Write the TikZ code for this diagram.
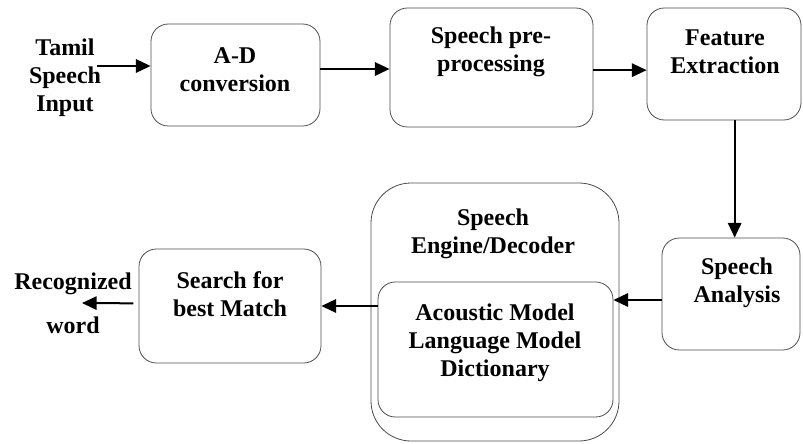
\documentclass[tikz,border=0pt]{standalone}
\usepackage{fontspec}
\setmainfont{Liberation Serif}
\usetikzlibrary{positioning,arrows.meta,calc}

\tikzset{
  block/.style={draw=black!70, line width=0.6pt, rounded corners=13pt},
  bigblock/.style={block, rounded corners=30pt},
  lbl/.style={font=\fontsize{18}{21}\selectfont\bfseries, align=center, inner sep=0pt},
  flow/.style={line width=1.5pt, -{Triangle[length=11pt,width=10pt]}}
}

\begin{document}
\begin{tikzpicture}[x=0.75pt,y=-0.75pt]
    \useasboundingbox (0,0) rectangle (803,443);

    % Top row
    \node (ad) at (235.5,75) [block, minimum width=126.75pt, minimum height=76.5pt] {};
    \node (ad-t) at (235,70) [lbl] {A-D\\conversion};

    \node (pre) at (491.5,67.5) [block, minimum width=152.25pt, minimum height=89.25pt] {};
    \node (pre-t) at (491,52) [lbl] {Speech pre-\\processing};

    \node (fe) at (724,64) [block, minimum width=115.5pt, minimum height=84pt] {};
    \node (fe-t) at (725,52) [lbl] {Feature\\Extraction};

    % Bottom row
    \node (sa) at (731,294) [block, minimum width=103.5pt, minimum height=84pt] {};
    \node (sa-t) at (737,283) [lbl] {Speech\\Analysis};

    \node (eng) at (495,312) [bigblock, minimum width=186pt, minimum height=193.5pt] {};
    \node (eng-t) at (493,234) [lbl] {Speech\\Engine/Decoder};

    \node (inner) at (495.5,349.5) [block, minimum width=176.25pt, minimum height=101.25pt] {};
    \node (inner-t) at (495,343) [lbl] {Acoustic Model\\Language Model\\Dictionary};

    \node (search) at (230,306) [block, minimum width=136.5pt, minimum height=85.5pt] {};
    \node (search-t) at (230,294) [lbl] {Search for\\best Match};

    % Input and output
    \node (in-t) at (65,78) [lbl] {Tamil\\Speech\\Input};
    \node (out-t) at (73,303) [lbl] {Recognized\\[12pt]word};
    \coordinate (in-e) at (97,66);
    \coordinate (out-e) at (82,303);

    % Flow
    \draw[flow] (in-e) -- (in-e -| ad.west);
    \draw[flow] ([yshift=4.5pt]ad.east) -- ([yshift=4.5pt]ad.east -| pre.west);
    \draw[flow] ([yshift=-2pt]pre.east) -- ([yshift=-2pt]pre.east -| fe.west);
    \draw[flow] ([xshift=8pt]fe.south) -- ([xshift=8pt]fe.south |- sa.north);
    \draw[flow] ([yshift=-4.5pt]sa.west) -- ([yshift=-4.5pt]sa.west -| inner.east);
    \draw[flow] (inner.west |- search.east) -- (search.east);
    \draw[flow] ([xshift=-4pt,yshift=2pt]search.west) -- (out-e);
\end{tikzpicture}
\end{document}
